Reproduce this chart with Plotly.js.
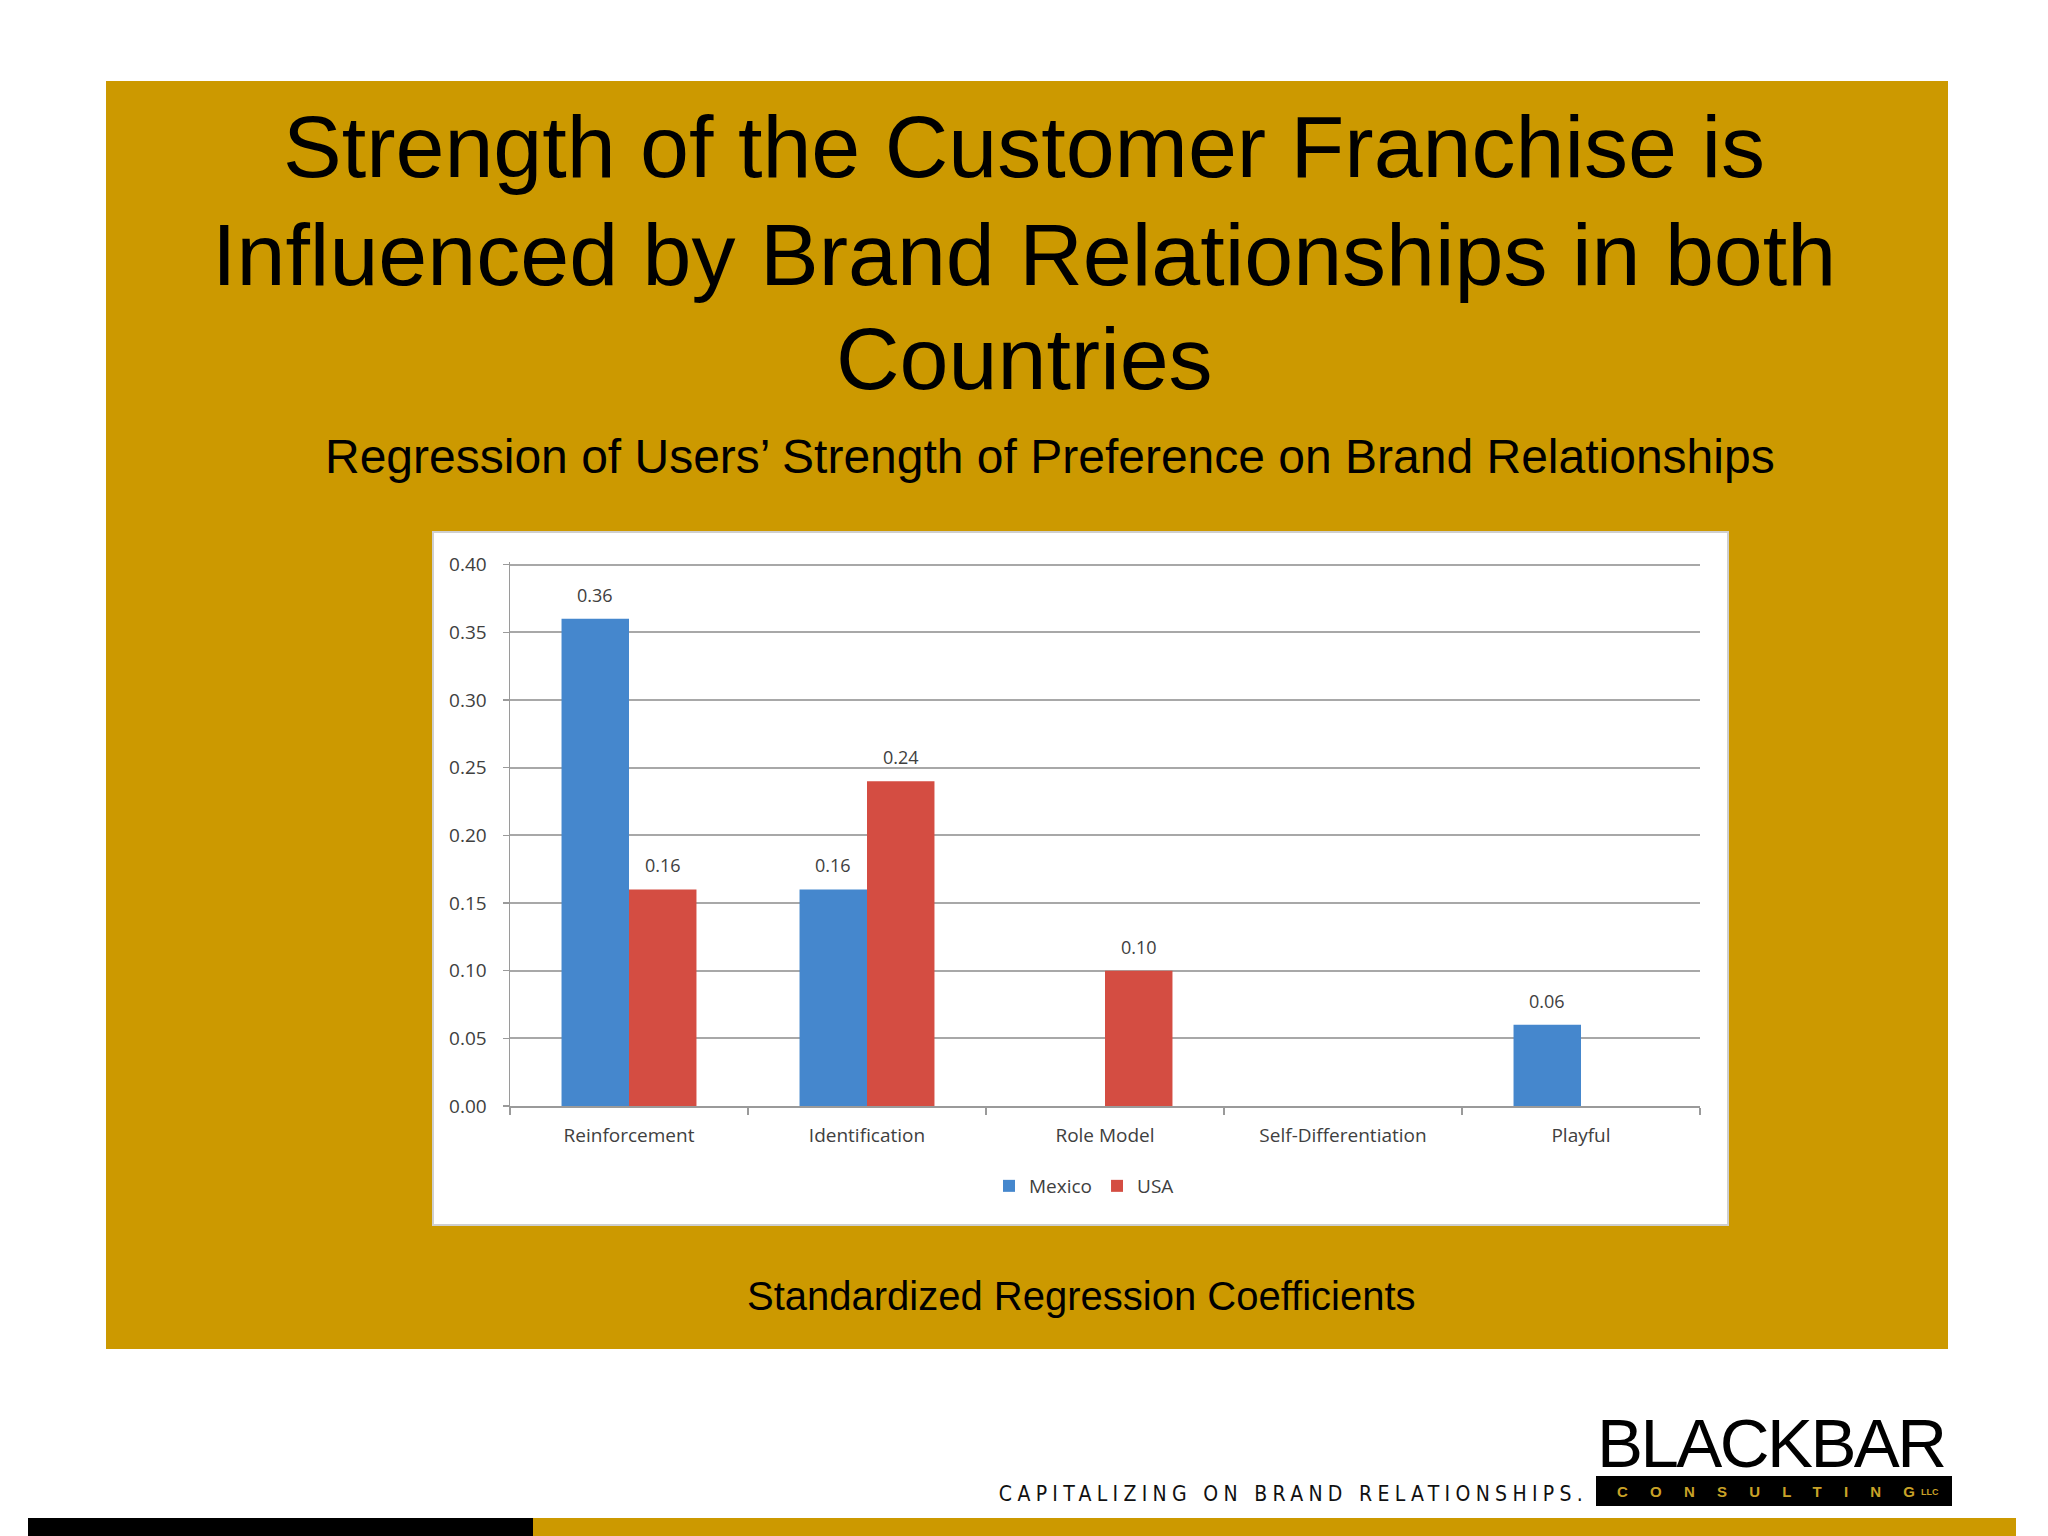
<!DOCTYPE html>
<html>
<head>
<meta charset="utf-8">
<script src="https://cdn.plot.ly/plotly-3.0.1.min.js"></script>
<style>
  html, body { margin: 0; padding: 0; background: #ffffff; }
  #chart { width: 2048px; height: 1536px; }
</style>
</head>
<body>
<div id="chart"></div>
<script>
// ---------------- data ----------------
const categories = ['Reinforcement', 'Identification', 'Role Model', 'Self-Differentiation', 'Playful'];
const mexico = [0.36, 0.16, null, null, 0.06];
const usa = [0.16, 0.24, 0.10, null, null];
const seriesNames = ['Mexico', 'USA'];
const yTickVals = [0.00, 0.05, 0.10, 0.15, 0.20, 0.25, 0.30, 0.35, 0.40];

const titleLines = [
  'Strength of the Customer Franchise is',
  'Influenced by Brand Relationships in both',
  'Countries'
];
const subtitle = 'Regression of Users\u2019 Strength of Preference on Brand Relationships';
const footnote = 'Standardized Regression Coefficients';
const tagline = 'CAPITALIZING ON BRAND RELATIONSHIPS.';
const logoMain = 'BLACKBAR';
const logoSub = 'CONSULTING';
const logoLLC = 'LLC';

// ---------------- styling ----------------
const W = 2048, H = 1536;
const GOLD = '#CC9900';
const BLUE = '#4587CD';
const RED = '#D44D42';
const GRID = '#A8A8A8';
const TXT = '#404040';

const plotL = 510, plotR = 1700, plotT = 562, plotB = 1106;
// convert page pixels to Plotly paper coordinates (relative to plot area)
const px = v => (v - plotL) / (plotR - plotL);
const py = v => (plotB - v) / (plotB - plotT);

const bargap = 0.433;
const catW = (plotR - plotL) / categories.length;
const barW = catW * (1 - bargap) / 2;

const traces = [
  {
    type: 'bar', name: seriesNames[0], x: categories, y: mexico,
    marker: { color: BLUE }, hoverinfo: 'x+y'
  },
  {
    type: 'bar', name: seriesNames[1], x: categories, y: usa,
    marker: { color: RED }, hoverinfo: 'x+y'
  }
];

const annotations = [];
// value labels above bars
[mexico, usa].forEach((arr, si) => {
  arr.forEach((v, i) => {
    if (v === null) return;
    annotations.push({
      xref: 'x', yref: 'y', x: categories[i], y: v,
      text: v.toFixed(2), showarrow: false,
      xshift: (si === 0 ? -1 : 1) * barW / 2, yshift: 24,
      yanchor: 'middle', xanchor: 'center',
      font: { family: 'Open Sans', size: 18, color: TXT }
    });
  });
});

// titles
const titleY = [147, 254, 358];
titleLines.forEach((t, i) => {
  annotations.push({
    xref: 'paper', yref: 'paper', x: px(1024), y: py(titleY[i]),
    xanchor: 'center', yanchor: 'middle', showarrow: false, text: t,
    font: { family: 'Liberation Sans, Arial, sans-serif', size: 88, color: '#000000' }
  });
});
annotations.push({
  xref: 'paper', yref: 'paper', x: px(1050), y: py(457),
  xanchor: 'center', yanchor: 'middle', showarrow: false, text: subtitle,
  font: { family: 'Liberation Sans, Arial, sans-serif', size: 48, color: '#000000' }
});
annotations.push({
  xref: 'paper', yref: 'paper', x: px(1081), y: py(1296),
  xanchor: 'center', yanchor: 'middle', showarrow: false, text: footnote,
  font: { family: 'Liberation Sans, Arial, sans-serif', size: 40, color: '#000000' }
});
// footer tagline + logo
annotations.push({
  xref: 'paper', yref: 'paper', x: px(1291), y: py(1494),
  xanchor: 'center', yanchor: 'middle', showarrow: false, text: tagline,
  font: { family: 'Liberation Sans Narrow, DejaVu Sans Condensed, sans-serif', size: 21, color: '#111111' }
});
annotations.push({
  xref: 'paper', yref: 'paper', x: px(1772), y: py(1443),
  xanchor: 'center', yanchor: 'middle', showarrow: false, text: logoMain,
  font: { family: 'Liberation Sans, Arial, sans-serif', size: 69, color: '#000000' }
});
annotations.push({
  xref: 'paper', yref: 'paper', x: px(1766), y: py(1491),
  xanchor: 'center', yanchor: 'middle', showarrow: false, text: logoSub,
  font: { family: 'Liberation Sans, Arial, sans-serif', size: 15, color: '#C9A227', weight: 700 }
});
annotations.push({
  xref: 'paper', yref: 'paper', x: px(1930), y: py(1492),
  xanchor: 'center', yanchor: 'middle', showarrow: false, text: logoLLC,
  font: { family: 'Liberation Sans, Arial, sans-serif', size: 9, color: '#C9A227', weight: 700 }
});

const shapes = [
  // gold panel
  { type: 'rect', xref: 'paper', yref: 'paper', x0: px(106), x1: px(1948), y0: py(81), y1: py(1349),
    fillcolor: GOLD, line: { width: 0 }, layer: 'below' },
  // white chart box
  { type: 'rect', xref: 'paper', yref: 'paper', x0: px(433), x1: px(1728), y0: py(532), y1: py(1225),
    fillcolor: '#FFFFFF', line: { color: '#CFCFCF', width: 2 }, layer: 'below' },
  // bottom bars
  { type: 'rect', xref: 'paper', yref: 'paper', x0: px(28), x1: px(533), y0: py(1518), y1: py(1536),
    fillcolor: '#000000', line: { width: 0 }, layer: 'below' },
  { type: 'rect', xref: 'paper', yref: 'paper', x0: px(533), x1: px(2016), y0: py(1518), y1: py(1536),
    fillcolor: GOLD, line: { width: 0 }, layer: 'below' },
  // logo black box
  { type: 'rect', xref: 'paper', yref: 'paper', x0: px(1596), x1: px(1952), y0: py(1476), y1: py(1506),
    fillcolor: '#000000', line: { width: 0 }, layer: 'below' }
];

const layout = {
  width: W, height: H,
  paper_bgcolor: '#FFFFFF',
  plot_bgcolor: 'rgba(0,0,0,0)',
  font: { family: 'Open Sans', color: TXT, size: 19 },
  margin: { l: plotL, r: W - plotR, t: plotT, b: H - plotB, pad: 0 },
  barmode: 'group',
  bargap: bargap,
  bargroupgap: 0,
  showlegend: true,
  legend: {
    orientation: 'h', x: px(1084), xanchor: 'center', y: py(1186), yanchor: 'middle',
    font: { family: 'Open Sans', size: 19, color: TXT }, itemwidth: 30,
    bgcolor: 'rgba(0,0,0,0)', traceorder: 'normal'
  },
  xaxis: {
    type: 'category', categoryorder: 'array', categoryarray: categories,
    range: [-0.5, categories.length - 0.5],
    showline: true, linecolor: '#9A9A9A', linewidth: 2,
    ticks: 'outside', tickson: 'boundaries', ticklen: 7, tickcolor: '#9A9A9A', tickwidth: 1.5,
    showgrid: false, zeroline: false,
    tickfont: { family: 'Open Sans', size: 19, color: TXT },
    ticklabelstandoff: 11,
    fixedrange: true
  },
  yaxis: {
    range: [0, 0.402], tickvals: yTickVals, tickformat: '.2f',
    showline: true, linecolor: '#9A9A9A', linewidth: 1.5,
    ticks: 'outside', ticklen: 6, tickcolor: '#9A9A9A', tickwidth: 1.5,
    showgrid: true, gridcolor: GRID, gridwidth: 2,
    zeroline: false,
    tickfont: { family: 'Open Sans', size: 19, color: TXT },
    ticklabelstandoff: 12,
    fixedrange: true
  },
  shapes: shapes,
  annotations: annotations
};

// stretch a text to a given visible width by spacing its letters (no trailing space)
function fitText(str, target) {
  const el = Array.from(document.querySelectorAll('text.annotation-text')).find(t => t.textContent === str);
  if (!el) return;
  el.setAttribute('textLength', String(target));
  el.setAttribute('lengthAdjust', 'spacing');
}

Plotly.newPlot('chart', traces, layout, { displayModeBar: false, staticPlot: true }).then(() => {
  fitText(tagline, 584);
  fitText(logoMain, 350);
  fitText(logoSub, 298);
});
</script>
</body>
</html>
